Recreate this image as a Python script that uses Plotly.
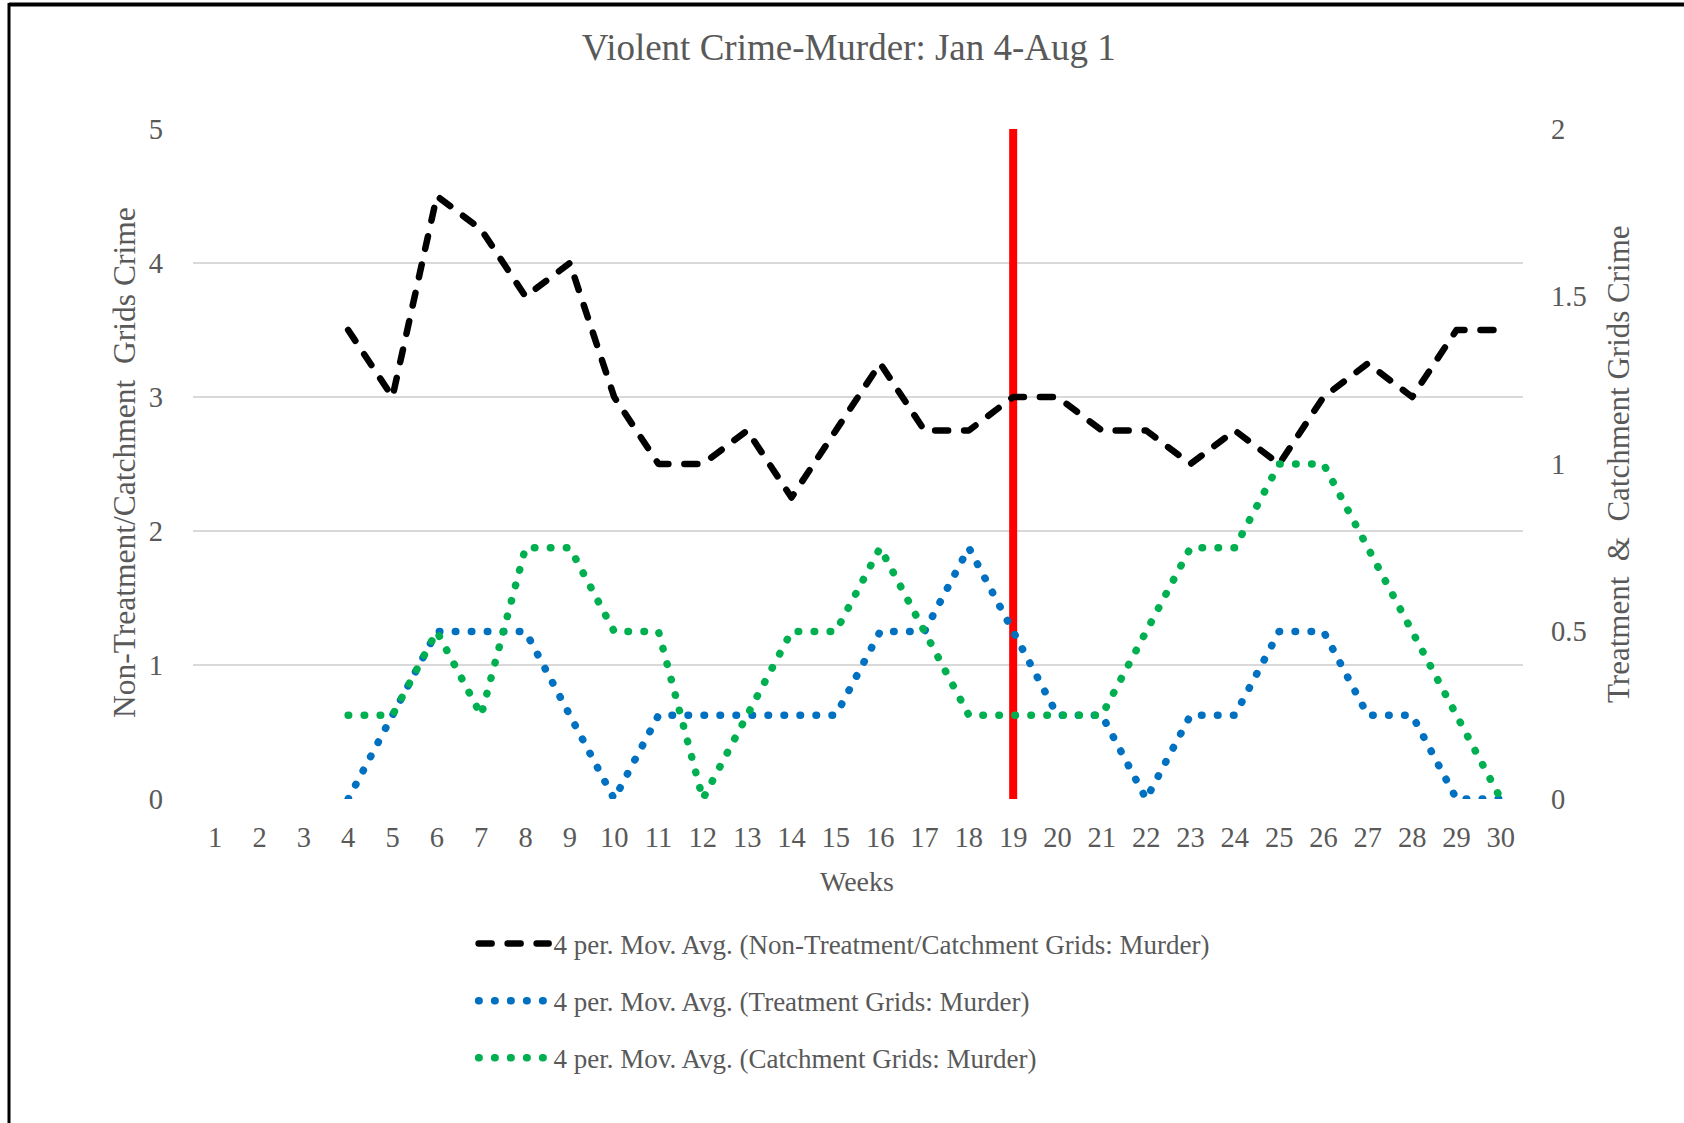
import plotly.graph_objects as go

weeks = list(range(1, 31))
non_treatment = [None, None, None, 3.5, 3.0, 4.5, 4.25, 3.75, 4.0, 3.0, 2.5, 2.5, 2.75, 2.25, 2.75,
                 3.25, 2.75, 2.75, 3.0, 3.0, 2.75, 2.75, 2.5, 2.75, 2.5, 3.0, 3.25, 3.0, 3.5, 3.5]
treatment = [None, None, None, 0.0, 0.25, 0.5, 0.5, 0.5, 0.25, 0.0, 0.25, 0.25, 0.25, 0.25, 0.25,
             0.5, 0.5, 0.75, 0.5, 0.25, 0.25, 0.0, 0.25, 0.25, 0.5, 0.5, 0.25, 0.25, 0.0, 0.0]
catchment = [None, None, None, 0.25, 0.25, 0.5, 0.25, 0.75, 0.75, 0.5, 0.5, 0.0, 0.25, 0.5, 0.5,
             0.75, 0.5, 0.25, 0.25, 0.25, 0.25, 0.5, 0.75, 0.75, 1.0, 1.0, 0.75, 0.5, 0.25, 0.0]
intervention_week = 19
intervention_range = [0, 5]
left_ticks = [0, 1, 2, 3, 4, 5]
right_ticks = [0, 0.5, 1, 1.5, 2]

names = ["4 per. Mov. Avg. (Non-Treatment/Catchment Grids: Murder)",
         "4 per. Mov. Avg. (Treatment Grids: Murder)",
         "4 per. Mov. Avg. (Catchment Grids: Murder)"]
title_text = "Violent Crime-Murder: Jan 4-Aug 1"
x_title = "Weeks"
y_title = "Non-Treatment/Catchment  Grids Crime"
y2_title = "Treatment  &  Catchment Grids Crime"

FONT = "Liberation Serif, Times New Roman, serif"
TXT = "#595959"

fig = go.Figure()
fig.add_trace(go.Scatter(x=[intervention_week, intervention_week], y=intervention_range,
                         mode="lines", line=dict(color="#FF0000", width=8),
                         showlegend=False, hoverinfo="skip"))
fig.add_trace(go.Scatter(x=weeks, y=non_treatment, mode="lines", name=names[0],
                         line=dict(color="black", width=6.5, dash="13px,16px"),
                         legendgroup="a"))
fig.add_trace(go.Scatter(x=weeks, y=treatment, mode="lines", name=names[1], yaxis="y2",
                         line=dict(color="#0070C0", width=7.5, dash="0.5px,15.5px"),
                         legendgroup="b"))
fig.add_trace(go.Scatter(x=weeks, y=catchment, mode="lines", name=names[2], yaxis="y2",
                         line=dict(color="#00B050", width=7.5, dash="0.5px,15.5px"),
                         legendgroup="c"))

L, R, T, B = 193, 161, 129, 324
W, H = 1684, 1123
pw, ph = W - L - R, H - T - B

def px(x):
    return (x - L) / pw

def py(y):
    return (H - B - y) / ph

fig.update_layout(
    width=W, height=H,
    margin=dict(l=L, r=R, t=T, b=B, autoexpand=False),
    paper_bgcolor="white", plot_bgcolor="white",
    font=dict(family=FONT, color=TXT, size=28),
    title=dict(text=title_text, x=0.504, xref="container",
               y=1 - 47 / H, yref="container", xanchor="center", yanchor="middle",
               font=dict(size=37, color=TXT, family=FONT)),
    xaxis=dict(range=[0.5, 30.5], tickvals=weeks, ticktext=[str(w) for w in weeks],
               showgrid=False, zeroline=False, showline=False, ticks="",
               ticklabelstandoff=18, automargin=False, tickfont=dict(size=28.5)),
    yaxis=dict(range=[0, 5], tickvals=left_ticks, showgrid=True, gridcolor="#D9D9D9",
               gridwidth=2, zeroline=False, showline=False, ticks="",
               ticklabelstandoff=29, automargin=False, tickfont=dict(size=28.5)),
    yaxis2=dict(range=[0, 2], tickvals=right_ticks, overlaying="y", side="right",
                showgrid=False, zeroline=False, showline=False, ticks="",
                ticklabelstandoff=27, automargin=False, tickfont=dict(size=28.5)),
    legend=dict(x=0.305, xref="container", xanchor="left", y=1 - 919.5 / H, yref="container",
                yanchor="top", orientation="v", tracegroupgap=19,
                font=dict(size=27, color=TXT, family=FONT), bgcolor="rgba(0,0,0,0)"),
    annotations=[
        dict(text=x_title, xref="paper", yref="paper", x=px(857), y=py(882),
             xanchor="center", yanchor="middle", showarrow=False,
             font=dict(size=28, color=TXT, family=FONT)),
        dict(text=y_title, xref="paper", yref="paper", x=px(124), y=py(463),
             xanchor="center", yanchor="middle", showarrow=False, textangle=-90,
             font=dict(size=31.5, color=TXT, family=FONT)),
        dict(text=y2_title, xref="paper", yref="paper", x=px(1618), y=py(464),
             xanchor="center", yanchor="middle", showarrow=False, textangle=-90,
             font=dict(size=31, color=TXT, family=FONT)),
    ],
    shapes=[
        dict(type="line", xref="paper", yref="paper", x0=px(9), x1=px(W + 5), y0=py(4.5), y1=py(4.5),
             line=dict(color="black", width=4)),
        dict(type="line", xref="paper", yref="paper", x0=px(9), x1=px(9), y0=py(3), y1=py(H + 5),
             line=dict(color="black", width=3)),
    ],
    showlegend=True,
)

post = """
var gd = document.getElementById('{plot_id}');
document.body.style.margin = '0';
function rc(){
  gd.querySelectorAll('path.js-line').forEach(function(p){ p.style.strokeLinecap='round'; p.style.strokeLinejoin='round'; });
  gd.querySelectorAll('g.legendlines path').forEach(function(p){ p.setAttribute('d', 'M-35,0h70'); });
  gd.querySelectorAll('.legend .scrollbox, .legend').forEach(function(s){ s.removeAttribute('clip-path'); s.style.clipPath = 'none'; });
}
rc();
gd.on('plotly_afterplot', rc);
[50, 200, 500, 1000, 2000, 3000].forEach(function(t){ setTimeout(rc, t); });
"""
fig.write_html("out.html", post_script=post, config={"displayModeBar": False})
